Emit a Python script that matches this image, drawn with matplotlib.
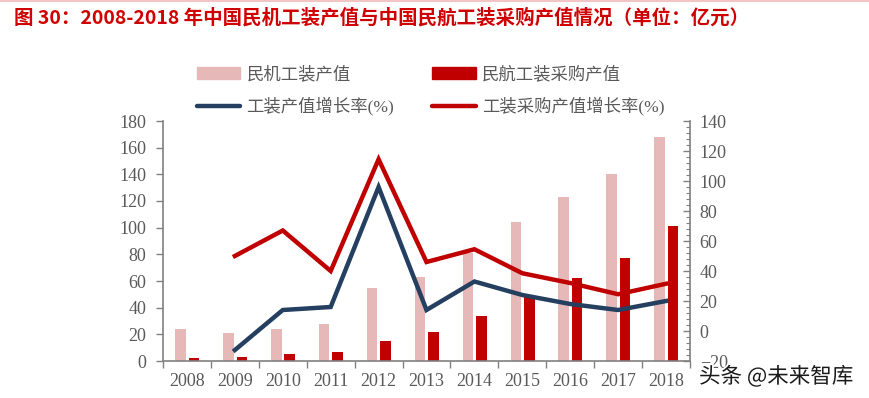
import matplotlib
matplotlib.use("Agg")
import matplotlib.pyplot as plt
import numpy as np
from matplotlib.ticker import MultipleLocator
from matplotlib.lines import Line2D
from matplotlib.patches import Patch
import matplotlib.patheffects as pe

years = ["2008", "2009", "2010", "2011", "2012", "2013", "2014", "2015", "2016", "2017", "2018"]
civil_tooling = [24, 21, 24, 28, 55, 63, 81, 104, 123, 140, 168]
airline_procurement = [2, 3, 5, 7, 15, 22, 34, 48, 62, 77, 101]
tooling_growth = [np.nan, -12.7, 14, 16, 96, 14, 33, 24, 18, 14, 20]
procurement_growth = [np.nan, 50, 67, 40, 114.5, 46, 54.5, 38.5, 32, 24.5, 31.5]

title = "图 30：2008-2018 年中国民机工装产值与中国民航工装采购产值情况（单位：亿元）"
labels = ["民机工装产值", "民航工装采购产值", "工装产值增长率(%)", "工装采购产值增长率(%)"]

PINK = "#E6B9B8"
RED = "#C00000"
NAVY = "#243F60"
GRAY = "#595959"
SPINE = "#808080"

fam = ["Liberation Serif", "Noto Sans CJK SC"]
plt.rcParams["font.family"] = fam

fig = plt.figure(figsize=(8.69, 3.98), dpi=100)
ax = fig.add_axes([163/869, 37/398, (690-163)/869, (361-121)/398])
ax2 = ax.twinx()

x = np.arange(len(years))
w = 0.22
ax.bar(x - 0.135, civil_tooling, width=w, color=PINK, zorder=2)
ax.bar(x + 0.145, airline_procurement, width=w, color=RED, zorder=2)

ax2.plot(x, tooling_growth, color=NAVY, lw=3.2, solid_joinstyle="miter", zorder=3)
ax2.plot(x, procurement_growth, color=RED, lw=3.2, solid_joinstyle="miter", zorder=3)

ax.set_xlim(-0.5, len(years) - 0.5)
ax.set_ylim(0, 180)
ax.yaxis.set_major_locator(MultipleLocator(20))
ax2.set_ylim(-20, 140)
ax2.yaxis.set_major_locator(MultipleLocator(20))
ax2.yaxis.set_minor_locator(MultipleLocator(4))

ax.set_xticks(x)
ax.set_xticklabels(years)
ax.set_xticks(np.arange(-0.5, len(years), 1), minor=True)
ax.tick_params(axis="x", which="major", length=0, pad=9, labelsize=13, labelcolor=GRAY)
ax.tick_params(axis="x", which="minor", length=5, color=SPINE, width=1)
ax.tick_params(axis="y", which="major", length=5, color=SPINE, width=1, labelsize=13, labelcolor=GRAY, pad=7)
ax2.tick_params(axis="y", which="major", direction="in", length=5, color=SPINE, width=1, labelsize=13, labelcolor=GRAY, pad=7)
ax2.tick_params(axis="y", which="minor", direction="in", length=3, color=SPINE, width=0.8)

for a in (ax, ax2):
    a.spines["top"].set_visible(False)
    for s in ("left", "right", "bottom"):
        a.spines[s].set_color(SPINE)
        a.spines[s].set_linewidth(1.2)
ax2.spines["left"].set_visible(False)
ax2.spines["bottom"].set_visible(False)
ax.spines["right"].set_visible(False)

handles = [
    Patch(color=PINK),
    Line2D([], [], color=NAVY, lw=3.2, solid_capstyle="round"),
    Patch(color=RED),
    Line2D([], [], color=RED, lw=3.2, solid_capstyle="round"),
]
leg_labels = [labels[0], labels[2], labels[1], labels[3]]
leg = fig.legend(handles, leg_labels, ncol=2, loc="center left",
                 bbox_to_anchor=(197/869, 1 - 91/398), frameon=False,
                 prop={"family": fam, "size": 12.5}, handlelength=2.5,
                 handletextpad=0.35, columnspacing=2.2, labelspacing=0.8,
                 borderaxespad=0, borderpad=0)
for t in leg.get_texts():
    t.set_color(GRAY)

fig.text(14/869, 1 - 18/398, title, color="#D00000", fontsize=14, fontweight="bold",
         family=["Noto Sans CJK SC", "DejaVu Sans"], va="center", ha="left")

fig.add_artist(Line2D([0, 1], [1 - 0.8/398, 1 - 0.8/398], color="#F2C4C4", lw=1.5,
                      transform=fig.transFigure))

fig.text(699/869, 1 - 377/398, "头条 @未来智库", fontsize=15.5, color="#1a1a1a",
         family=["Noto Sans CJK SC", "DejaVu Sans"], va="center", ha="left",
         path_effects=[pe.withStroke(linewidth=2.5, foreground="white")])

fig.savefig("out.png", dpi=100)
